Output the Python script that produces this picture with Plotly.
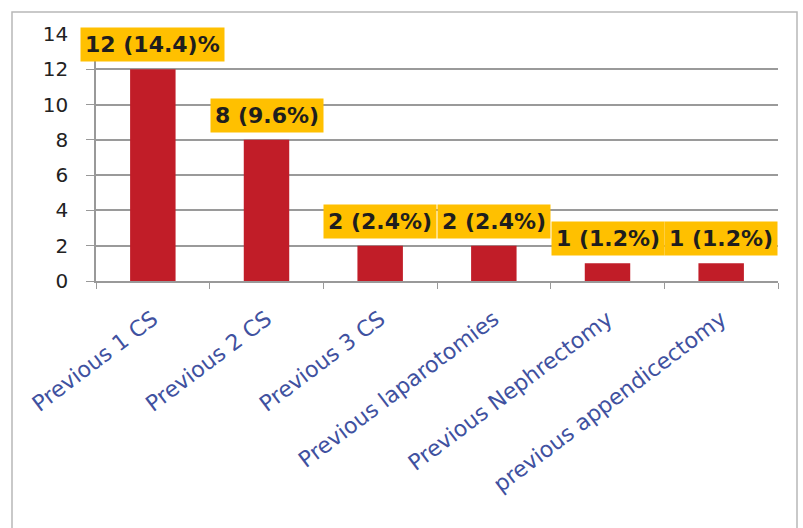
import plotly.graph_objects as go

categories = ["Previous 1 CS", "Previous 2 CS", "Previous 3 CS",
              "Previous laparotomies", "Previous Nephrectomy", "previous appendicectomy"]
counts = [12, 8, 2, 2, 1, 1]
labels = ["12 (14.4)%", "8 (9.6%)", "2 (2.4%)", "2 (2.4%)", "1 (1.2%)", "1 (1.2%)"]
y_ticks = [0, 2, 4, 6, 8, 10, 12, 14]

W, H = 803, 528
L, R, T, B = 96, 25, 34, 247
pw, ph = W - L - R, H - T - B
FONT = "'DejaVu Sans', Verdana, sans-serif"

fig = go.Figure()
fig.add_trace(go.Bar(x=categories, y=counts, marker=dict(color="#C11D28", line=dict(width=0)),
                     width=0.4, hoverinfo="skip"))

for c, v, t in zip(categories, counts, labels):
    fig.add_annotation(x=c, y=v, text="<b>" + t + "</b>", showarrow=False,
                       yanchor="bottom", yshift=7, bgcolor="#FFC000", borderpad=4,
                       font=dict(family=FONT, size=22, color="#1E1E1E"))

def px_to_paper_x(px):
    return (px - L) / pw

def px_to_paper_y(py):
    return (H - B - py) / ph

fig.add_shape(type="rect", xref="paper", yref="paper",
              x0=px_to_paper_x(12), x1=px_to_paper_x(797),
              y0=px_to_paper_y(540), y1=px_to_paper_y(12),
              line=dict(color="#B8B8B8", width=1.5), fillcolor="rgba(0,0,0,0)", layer="below")

fig.update_layout(
    width=W, height=H,
    margin=dict(l=L, r=R, t=T, b=B, pad=0, autoexpand=False),
    paper_bgcolor="white", plot_bgcolor="white",
    showlegend=False,
    font=dict(family=FONT),
    xaxis=dict(type="category", range=[-0.5, len(categories) - 0.5], tickangle=-37,
               ticks="outside", tickson="boundaries",
               ticklen=6, tickcolor="#999999", showline=True, linecolor="#999999", linewidth=1.5,
               automargin=False, ticklabelstandoff=15,
               tickfont=dict(family=FONT, size=22, color="#4051A0"), showgrid=False),
    yaxis=dict(range=[0, 14], tickvals=y_ticks, showgrid=True, gridcolor="#9A9A9A", gridwidth=1.5,
               showline=True, linecolor="#999999", linewidth=1.5, ticks="outside", ticklen=8,
               tickcolor="#999999", ticklabelstandoff=14, automargin=False,
               tickfont=dict(family=FONT, size=20, color="#222222"), zeroline=False),
)

fig.write_html("out.html")
